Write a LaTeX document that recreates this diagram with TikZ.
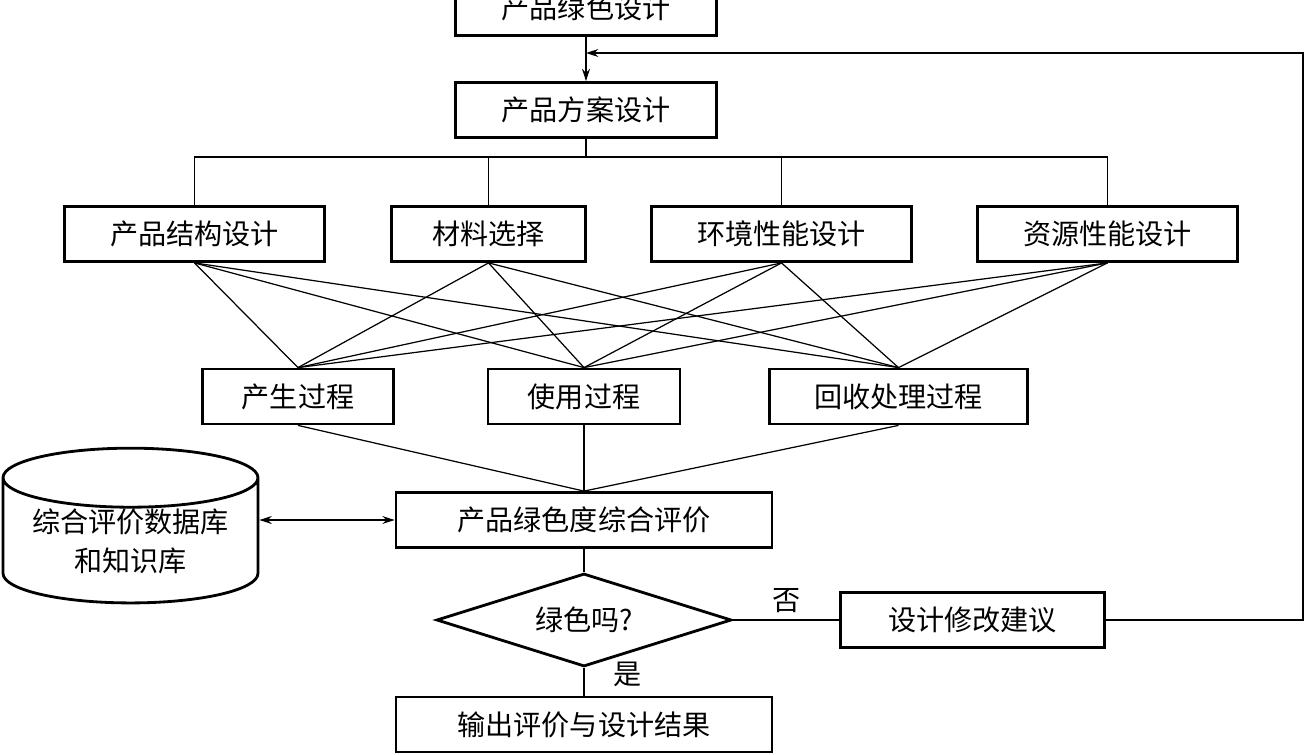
\documentclass[tikz,border=0pt]{standalone}
\usepackage{fontspec}
\newfontfamily\cjk{Noto Sans CJK SC}
\usepackage{tikz}
\usetikzlibrary{arrows.meta,positioning,shapes.geometric}
\tikzset{
  >={Stealth[length=7pt,width=4.5pt]},
  font=\cjk\fontsize{16}{20}\selectfont,
  box/.style={draw,line width=1.6pt,align=center,inner sep=0pt,minimum height=1.1cm},
  ask/.style={diamond,aspect=3.2,draw,line width=1.6pt,inner sep=0pt,minimum width=5.9cm,minimum height=1.86cm},
  db/.style={cylinder,shape border rotate=90,aspect=0.3,draw,line width=1.6pt,
             align=center,inner sep=0pt,minimum width=5.1cm,minimum height=2.96cm},
  link/.style={line width=0.7pt},
  flow/.style={->,line width=0.7pt},
  tag/.style={inner sep=1pt},
}
\begin{document}
\begin{tikzpicture}[x=0.02cm,y=-0.02cm]
  \useasboundingbox (0,0) rectangle (1305,754);

  \node[box,minimum width=5.22cm] (green) at (586,8) {产品绿色设计};
  \node[box,minimum width=5.22cm] (plan) at (586,110) {产品方案设计};

  \node[box,minimum width=5.2cm] (struct) at (194.5,234) {产品结构设计};
  \node[box,minimum width=3.88cm] (mat) at (488.5,234) {材料选择};
  \node[box,minimum width=5.2cm] (env) at (781.5,234) {环境性能设计};
  \node[box,minimum width=5.2cm] (res) at (1107.5,234) {资源性能设计};

  \node[box,minimum width=3.82cm] (prod) at (298,396.5) {产生过程};
  \node[box,minimum width=3.84cm] (use) at (584,396.5) {使用过程};
  \node[box,minimum width=5.16cm] (recyc) at (898.5,396.5) {回收处理过程};

  \node[box,minimum width=7.52cm] (eval) at (584,520) {产品绿色度综合评价};
  \node[db] (kb) at (130.5,541) {综合评价数据库\\[2pt]和知识库};
  \node[ask] (isgreen) at (584,620) {绿色吗?};
  \node[box,minimum width=5.28cm] (fix) at (972.5,620) {设计修改建议};
  \node[box,minimum width=7.52cm] (out) at (584,724.5) {输出评价与设计结果};

  \node[tag] (no) at (787,601) {否};
  \node[tag] (yes) at (628,674) {是};

  \coordinate (fork) at (586,157);
  \coordinate (back) at (586,53);
  \coordinate (rim) at (1303,53);

  \draw[flow] (green) -- (plan);
  \draw[link] (plan) -- (fork);
  \foreach \n in {struct,mat,env,res}
    \draw[link] (fork) -| (\n.north);

  % every design aspect feeds every life-cycle stage
  \foreach \a in {struct,mat,env,res}
    \foreach \b in {prod,use,recyc}
      \draw[link] (\a.south) -- (\b.north);
  \foreach \b in {prod,use,recyc}
    \draw[link] (\b.south) -- (eval.north);

  \draw[<->,line width=0.7pt] (kb.east |- eval.west) -- (eval.west);
  \draw[link] (eval) -- (isgreen);
  \draw[link] (isgreen) -- (out);
  \draw[link] (isgreen) -- (fix);
  \draw[flow] (fix.east) -| (rim) -- (back);
\end{tikzpicture}
\end{document}
